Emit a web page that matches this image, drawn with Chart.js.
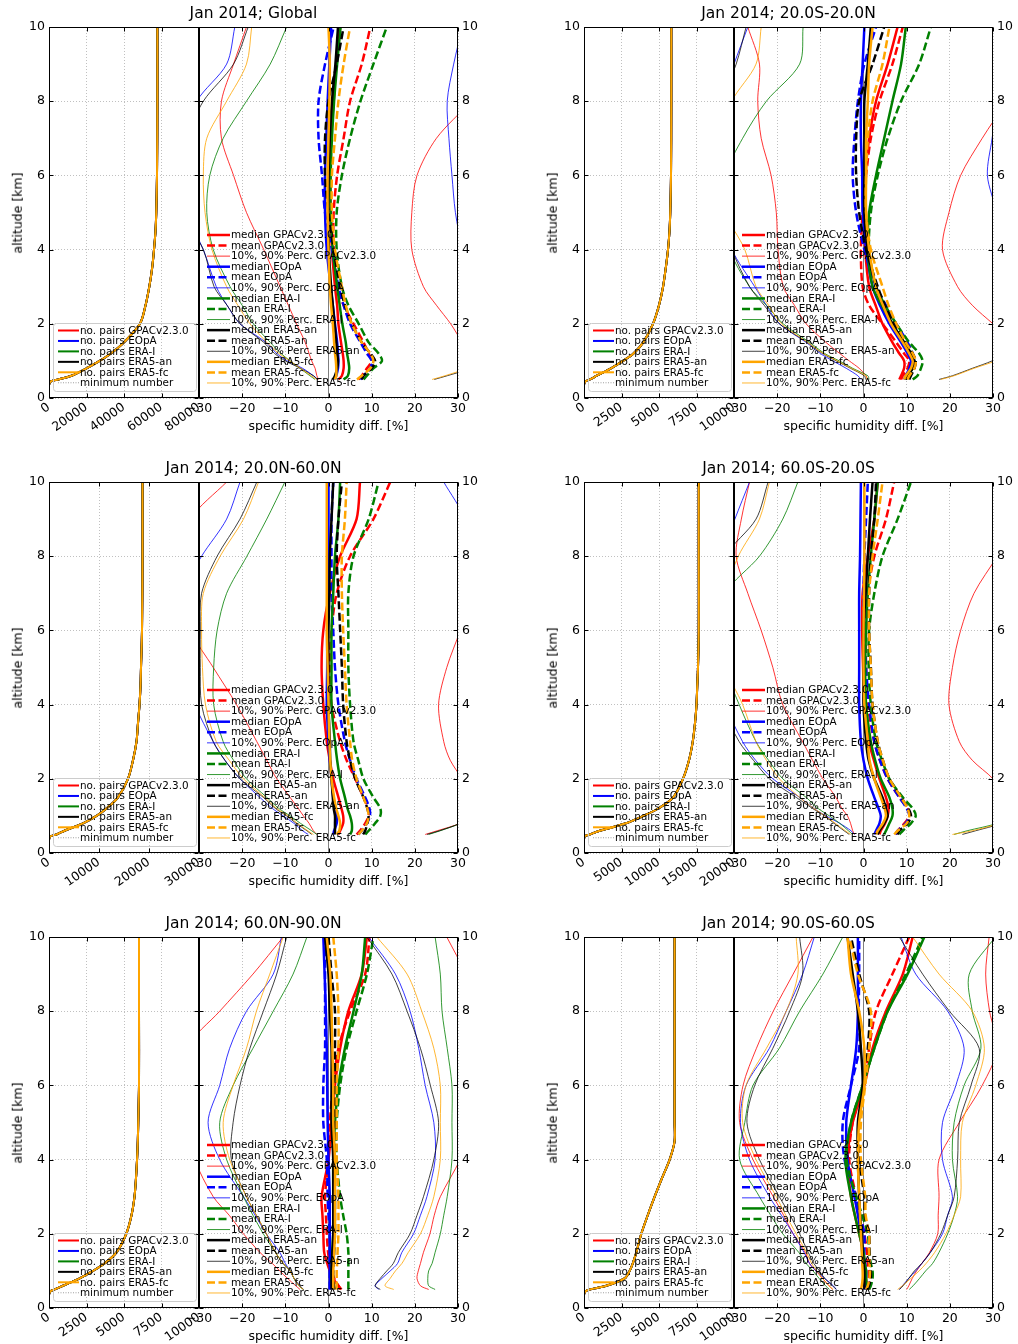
<!DOCTYPE html>
<html>
<head>
<meta charset="utf-8">
<script src="https://cdn.jsdelivr.net/npm/chart.js@4.4.1/dist/chart.umd.min.js"></script>
<style>
  html, body { margin: 0; padding: 0; background: #fff; overflow: hidden; }
  body { width: 1018px; height: 1344px; position: relative; font-family: "DejaVu Sans", sans-serif; color: #000; }
  canvas { position: absolute; }
  .lbl { position: absolute; white-space: nowrap; transform: translate(-50%, -50%); line-height: 1; }
  .title { font-size: 15.5px; }
  .axlab { font-size: 12.5px; }
  .ylab { transform: translate(-50%, -50%) rotate(-90deg); }
</style>
</head>
<body>
<script>
// ---- shared axes / series definitions ----
const ALT = [0.5, 0.6, 0.8, 1, 1.2, 1.5, 2, 2.5, 3, 4, 5, 6, 7, 8, 9, 10];          // km, difference profiles
const PAIR_ALT = [0, 0.35, 0.45, 0.5, 0.6, 0.8, 1, 1.2, 1.5, 2, 2.5, 3, 3.5, 4, 4.5, 5, 6, 8, 10]; // km, pair counts
const SOURCES = ['GPACv2.3.0', 'EOpA', 'ERA-I', 'ERA5-an', 'ERA5-fc'];
const COLORS = ['#ff0000', '#0000ff', '#008000', '#000000', '#ffa500'];
const PERC_COLORS = ['rgba(255,0,0,0.8)', 'rgba(0,0,255,0.8)', 'rgba(0,128,0,0.8)', 'rgba(0,0,0,0.75)', 'rgba(255,165,0,0.8)'];
const ALT_TICKS = [0, 2, 4, 6, 8, 10];
const DIFF_TICKS = [-30, -20, -10, 0, 10, 20, 30];
const ZERO_REF = 0;
const MIN_PAIRS = 0;

// ---- Global ----
const GLB_MEDIAN = [
  [2.3, 3.1, 3.5, 3.5, 3.3, 2.9, 2.3, 2.0, 1.5, 0.8, 0.5, 0.4, 0.6, 1.2, 1.8, 2.7],
  [1.5, 1.8, 2.2, 2.3, 2.2, 2.0, 1.5, 1.0, 0.5, -0.4, -0.8, -0.8, -0.5, -0.2, 0.2, 0.6],
  [3.5, 4.5, 4.8, 4.6, 4.3, 4.0, 3.2, 2.6, 2.0, 1.0, 0.5, 0.5, 0.8, 1.3, 2.0, 2.8],
  [1.0, 1.5, 2.0, 2.2, 2.0, 1.8, 1.4, 1.0, 0.6, 0.1, -0.1, 0.0, 0.3, 0.8, 1.6, 2.2],
  [1.5, 1.8, 1.8, 1.7, 1.5, 1.3, 1.0, 0.6, 0.3, 0.0, -0.2, -0.2, 0.0, 0.2, 0.3, 0.0]
];
const GLB_MEAN = [
  [7.0, 7.7, 8.9, 10.0, 9.3, 8.1, 5.8, 3.5, 2.0, 1.2, 1.2, 2.0, 3.5, 5.0, 7.7, 9.7],
  [7.4, 8.1, 9.7, 10.0, 8.9, 7.4, 5.0, 3.5, 2.3, 0.8, -0.8, -1.5, -2.3, -2.3, -0.8, 1.2],
  [8.1, 8.9, 10.4, 12.4, 11.6, 9.3, 7.0, 4.6, 3.1, 1.9, 1.9, 3.1, 5.0, 7.4, 10.4, 13.5],
  [7.7, 8.1, 10.0, 10.8, 9.7, 7.7, 5.4, 3.8, 2.7, 1.2, 0.0, -0.8, -0.8, 0.0, 1.9, 3.5],
  [6.6, 7.7, 9.7, 10.4, 9.7, 7.7, 5.4, 4.0, 3.1, 1.5, 0.8, 0.8, 1.5, 2.3, 3.5, 5.0]
];
const GLB_P10 = [
  [-2.3, -2.7, -3.1, -3.9, -4.5, -5.4, -7.4, -9.3, -11.2, -15.0, -19.0, -22.0, -24.8, -24.8, -22.0, -19.0],
  [-2.5, -3.5, -6.0, -9.5, -12.0, -14.5, -20.5, -23.5, -26.0, -29.0, -33.0, -35.0, -33.0, -30.5, -23.6, -21.7],
  [-3.1, -4.3, -6.6, -8.9, -11.0, -13.5, -17.4, -20.0, -22.8, -26.7, -28.2, -27.5, -24.4, -19.0, -13.5, -9.7],
  [-2.5, -3.5, -6.5, -10.0, -12.5, -15.0, -20.5, -23.5, -26.5, -29.0, -34.0, -36.0, -33.0, -29.0, -22.0, -18.6],
  [-2.7, -4.0, -6.5, -8.9, -11.5, -14.3, -18.2, -21.0, -23.6, -27.0, -28.6, -29.0, -28.2, -23.6, -19.0, -17.8]
];
const GLB_P90 = [
  [40, 38, 36, 34, 33, 31, 28.3, 25, 22, 19.3, 19.3, 20.5, 25, 33, 40, 45],
  [45, 43, 41, 40, 39, 38, 36, 34, 33, 31, 29.4, 28.6, 27.9, 27.5, 29, 31],
  [34, 36, 38, 40, 40, 40, 38, 36, 35, 33, 33, 34, 35, 36, 38, 40],
  [24.5, 27.5, 33, 36, 38, 40, 40, 40, 39, 37, 36, 36, 37, 38, 40, 42],
  [24, 27, 32, 35, 37, 39, 40, 40, 39, 37, 36, 36, 37, 38, 40, 42]
];
const GLB_PAIRS = [0, 0, 1000, 5000, 12000, 20000, 27000, 33000, 40000, 48500, 51500, 53500, 55000, 56000, 56800, 57200, 57600, 57800, 57800];

// ---- 20.0S-20.0N ----
const TRP_MEDIAN = [
  [8.3, 8.7, 9.4, 9.4, 8.3, 6.7, 4.4, 2.8, 1.3, 0.4, 0.2, 0.4, 1.3, 2.9, 5.6, 7.9],
  [9.4, 9.8, 10.6, 11.0, 10.2, 8.7, 6.0, 3.8, 2.1, 0.6, -0.2, -0.3, -0.6, -0.6, -0.2, 0.2],
  [9.8, 10.2, 11.4, 11.8, 11.0, 9.4, 6.7, 4.2, 2.1, 1.0, 1.3, 2.9, 4.8, 6.7, 8.7, 9.8],
  [9.8, 10.2, 11.4, 11.8, 11.0, 9.4, 6.7, 4.5, 2.9, 1.0, 0.2, 0.2, 0.2, 0.2, 1.0, 1.7],
  [9.4, 9.8, 11.0, 11.4, 10.6, 9.1, 6.4, 4.5, 2.9, 1.3, 0.6, 0.6, 0.6, 1.0, 1.3, 2.1]
];
const TRP_MEAN = [
  [8.7, 9.1, 10.2, 10.6, 9.4, 7.6, 4.4, 1.3, -0.2, -0.6, -0.2, 0.6, 1.7, 3.7, 6.7, 9.1],
  [9.8, 10.2, 11.4, 11.8, 11.4, 10.2, 7.6, 5.2, 2.9, 0.2, -1.7, -2.5, -2.1, -1.3, 0.2, 2.9],
  [11.4, 12.5, 13.3, 13.7, 12.9, 10.6, 7.6, 5.0, 2.9, 1.3, 1.7, 3.3, 5.6, 8.7, 12.9, 15.6],
  [10.6, 11.0, 11.8, 12.1, 11.4, 9.8, 7.1, 5.0, 3.3, 0.6, -1.0, -1.7, -1.7, -1.0, 2.1, 4.8],
  [10.2, 10.6, 11.8, 12.1, 11.4, 9.8, 7.6, 5.8, 4.4, 1.7, 0.6, 0.6, 1.0, 2.1, 4.4, 6.0]
];
const TRP_P10 = [
  [1.0, 0.6, -1.0, -3.3, -5.5, -8.7, -13.3, -16.0, -18.6, -19.8, -20.2, -21.4, -23.7, -24.5, -24.1, -26.8],
  [-0.6, -1.3, -4.0, -7.1, -10.0, -13.3, -19.5, -22.5, -25.2, -30.5, -33, -34, -34, -33, -30, -26.8],
  [1.3, 1.0, -2.5, -5.6, -9.0, -12.5, -18.6, -22.5, -26.4, -31, -32, -32, -28, -22.5, -14.8, -14.0],
  [0.5, 0.2, -3.0, -6.3, -9.5, -13.0, -19.5, -23.0, -26.4, -30.5, -33, -34, -34, -33, -29.5, -27.2],
  [0.8, 0.5, -2.8, -6.0, -9.3, -13.0, -19.0, -22.0, -24.9, -27.5, -32, -33, -33, -30.5, -24.9, -23.7]
];
const TRP_P90 = [
  [40, 40, 39, 38, 37, 35, 30, 25.2, 21.8, 18.3, 19.8, 22.5, 27.5, 33, 37, 40],
  [40, 40, 39, 38, 37, 36, 35, 34, 33, 31.5, 30.8, 28.7, 29.8, 31, 33, 35],
  [35, 36, 38, 40, 40, 40, 40, 40, 40, 40, 40, 40, 40, 40, 40, 40],
  [17.5, 20.6, 25.2, 29.8, 33, 36, 38, 39, 39, 39, 39, 39, 40, 40, 40, 40],
  [17.9, 21.0, 25.6, 30.5, 33, 36, 38, 39, 39, 39, 39, 39, 40, 40, 40, 40]
];
const TRP_PAIRS = [0, 0, 100, 400, 850, 1800, 2600, 3300, 3950, 4600, 5000, 5270, 5450, 5600, 5700, 5750, 5800, 5820, 5820];

// ---- 20.0N-60.0N ----
const NML_MEDIAN = [
  [2.3, 2.7, 3.4, 3.4, 3.0, 2.3, 1.1, 0.3, -0.4, -1.2, -1.6, -1.2, 0.3, 2.7, 6.5, 7.3],
  [1.1, 1.3, 1.9, 1.9, 1.5, 1.1, 0.7, 0.3, 0.0, -0.4, -0.3, -0.3, -0.1, 0.0, 0.0, 0.0],
  [5.0, 5.4, 5.4, 5.0, 4.4, 3.8, 2.7, 2.0, 1.5, 0.7, 0.7, 0.7, 1.1, 1.5, 2.3, 2.7],
  [1.5, 1.5, 1.5, 1.5, 1.2, 1.0, 0.7, 0.4, 0.3, 0.0, 0.0, 0.0, 0.2, 0.3, 0.7, 1.1],
  [1.9, 2.5, 2.7, 2.3, 1.8, 1.3, 0.7, 0.4, 0.2, 0.0, -0.2, -0.4, -0.4, -0.4, -0.4, -0.4]
];
const NML_MEAN = [
  [6.5, 7.3, 8.5, 9.3, 9.3, 8.1, 6.2, 4.2, 2.7, 0.7, 0.3, 0.7, 1.9, 5.0, 10.4, 14.3],
  [6.9, 7.7, 8.9, 9.6, 9.5, 8.5, 6.5, 5.0, 3.8, 2.3, 1.5, 1.1, 0.7, 0.7, 0.7, 1.1],
  [8.5, 9.3, 10.8, 12.0, 12.0, 10.4, 8.1, 6.9, 5.8, 5.0, 4.6, 4.6, 4.6, 5.8, 9.3, 11.6],
  [8.0, 8.5, 9.0, 9.3, 9.0, 8.1, 6.2, 5.0, 4.2, 3.4, 3.1, 2.7, 2.3, 1.9, 2.3, 3.1],
  [6.9, 7.7, 8.9, 9.3, 9.0, 8.1, 6.5, 5.5, 5.0, 4.2, 3.8, 3.4, 3.1, 3.1, 3.8, 4.2]
];
const NML_P10 = [
  [-2.7, -3.5, -4.5, -5.8, -7.0, -8.9, -12.0, -14.3, -16.6, -21.3, -26.7, -32, -34, -34, -32, -23.6],
  [-4.7, -6.0, -8.0, -10.5, -13.0, -15.9, -20.5, -24.0, -26.7, -31, -34, -35, -34, -29.4, -23.6, -20.5],
  [-2.7, -3.9, -6.5, -8.9, -11.5, -14.3, -19.0, -22.0, -24.4, -26.6, -26.6, -25.8, -23.6, -18.9, -14.3, -10.1],
  [-3.9, -5.0, -7.5, -9.7, -12.3, -15.1, -20.5, -24.0, -26.7, -29.4, -29.7, -29.7, -29.4, -25.8, -20.5, -16.6],
  [-3.5, -4.8, -7.2, -9.3, -12.0, -14.8, -19.7, -23.0, -26.0, -28.5, -29.2, -29.4, -29.0, -25.1, -19.7, -16.2]
];
const NML_P90 = [
  [22.4, 25.2, 30.5, 33, 35, 34, 31, 28.2, 26.7, 25.5, 27.4, 30.5, 33, 35, 36, 38],
  [36, 37, 38, 38, 38, 38, 38, 38, 37, 36, 35, 34, 33, 32, 31.5, 26.7],
  [23.2, 25.9, 30.5, 33, 35, 36, 37, 38, 38, 38, 38, 38, 38, 38, 38, 38],
  [22.8, 25.7, 30.5, 33, 35, 36, 37, 38, 38, 38, 38, 38, 38, 38, 38, 38],
  [34, 35, 36, 37, 38, 38, 38, 38, 38, 38, 38, 38, 38, 38, 38, 38]
];
const NML_PAIRS = [0, 0, 300, 1500, 3100, 6800, 9500, 11500, 13800, 15800, 16800, 17500, 17800, 18100, 18300, 18400, 18600, 18700, 18700];

// ---- 60.0S-20.0S ----
const SML_MEDIAN = [
  [3.7, 4.0, 5.0, 5.6, 5.8, 5.2, 3.7, 2.4, 1.3, 0.2, -0.1, -0.3, -0.2, 1.0, 2.5, 3.3],
  [2.5, 2.9, 3.7, 4.0, 3.5, 2.5, 1.0, 0.0, -0.6, -1.0, -1.0, -1.0, -1.0, -0.8, -0.7, -0.6],
  [4.8, 5.2, 6.0, 6.7, 6.7, 6.0, 4.0, 2.7, 1.7, 0.6, 0.4, 0.6, 1.0, 1.7, 2.5, 3.3],
  [3.3, 3.7, 4.8, 5.6, 5.2, 4.4, 2.5, 1.2, 0.6, 0.0, 0.0, 0.0, 0.5, 1.0, 1.5, 2.1],
  [2.9, 3.3, 4.5, 5.2, 4.9, 4.0, 2.5, 1.4, 1.0, 0.2, 0.0, 0.0, 0.1, 0.2, 0.2, 0.2]
];
const SML_MEAN = [
  [7.5, 7.9, 9.5, 10.6, 10.2, 8.3, 5.6, 3.8, 2.5, 1.0, 0.6, 0.6, 1.0, 2.5, 5.2, 7.1],
  [7.5, 7.9, 9.8, 10.6, 10.0, 8.3, 5.6, 3.8, 2.5, 1.3, 0.6, 0.2, 0.0, 0.2, 0.6, 1.0],
  [8.3, 9.1, 11.0, 12.1, 11.4, 9.1, 6.0, 4.3, 2.9, 1.7, 1.2, 1.3, 2.5, 4.4, 7.9, 11.0],
  [7.9, 8.3, 10.2, 11.0, 10.4, 8.7, 6.0, 4.5, 3.3, 2.1, 1.7, 1.3, 1.3, 1.7, 2.5, 2.9],
  [7.1, 7.9, 10.0, 10.6, 10.2, 8.7, 6.0, 4.5, 3.3, 2.1, 1.7, 1.3, 1.3, 2.1, 3.3, 4.4]
];
const SML_P10 = [
  [-2.1, -2.5, -3.0, -3.7, -5.0, -6.4, -9.4, -11.8, -14.1, -18.7, -21.0, -23.7, -26.8, -29.5, -28.3, -26.4],
  [-2.1, -2.9, -5.5, -8.7, -11.5, -14.8, -21.0, -25.0, -28.0, -32, -34, -35, -34, -33, -29.8, -26.4],
  [-2.5, -3.5, -5.5, -7.9, -10.5, -13.3, -18.7, -22.0, -24.9, -28.8, -32, -33, -32, -24.1, -18.7, -15.2],
  [-3.3, -4.5, -6.8, -9.0, -11.8, -15.6, -21.8, -25.5, -28.8, -33, -35, -35, -34, -32, -24.9, -22.1],
  [-3.0, -4.2, -6.5, -8.9, -11.5, -14.8, -19.5, -22.5, -24.9, -28.0, -32, -33, -32, -29.0, -24.1, -21.8]
];
const SML_P90 = [
  [40, 40, 38, 36, 35, 33, 30, 25.2, 22.2, 19.8, 20.6, 22.5, 25.6, 31, 36, 40],
  [38, 38, 38, 38, 38, 38, 38, 38, 38, 38, 38, 38, 38, 38, 38, 38],
  [21, 24, 31, 34, 36, 38, 38, 38, 38, 38, 38, 38, 38, 38, 38, 38],
  [22.9, 26.0, 32, 35, 37, 38, 38, 38, 38, 38, 38, 38, 38, 38, 38, 38],
  [20.6, 25.2, 31.5, 35, 37, 38, 38, 38, 38, 38, 38, 38, 38, 38, 38, 38]
];
const SML_PAIRS = [0, 0, 100, 750, 2100, 5600, 7900, 9900, 11900, 13200, 14000, 14500, 14800, 15000, 15100, 15200, 15300, 15300, 15300];

// ---- 60.0N-90.0N ----
const NPL_MEDIAN = [
  [2.7, 2.3, 1.0, 0.3, -0.3, -1.0, -1.2, -1.4, -1.6, 0.0, 0.7, 1.5, 2.7, 4.6, 7.7, 8.9],
  [0.3, 0.3, 0.3, 0.3, 0.3, 0.3, 0.3, 0.3, 0.3, 0.0, -0.2, -0.3, -0.4, -0.6, -0.9, -1.2],
  [1.1, 0.9, 0.7, 0.7, 0.8, 0.9, 1.1, 1.1, 1.1, 1.1, 1.5, 2.3, 3.8, 5.8, 7.7, 8.5],
  [0.7, 0.7, 0.7, 0.7, 0.8, 0.9, 1.1, 1.1, 1.1, 1.1, 0.7, 0.7, 0.7, 0.3, 0.0, -0.8],
  [1.1, 1.1, 1.1, 1.1, 1.2, 1.3, 1.5, 1.5, 1.5, 1.5, 1.1, 1.1, 0.9, 0.7, 0.4, -0.4]
];
const NPL_MEAN = [
  [3.0, 2.3, 1.3, 0.7, 0.3, -0.1, -0.4, -0.6, -0.8, 0.0, 0.3, 1.1, 2.3, 5.0, 8.5, 9.5],
  [0.3, 0.3, 0.3, 0.3, 0.3, 0.3, 0.3, 0.0, -0.2, -0.4, -1.2, -1.2, -0.8, -0.8, -0.8, -0.8],
  [4.6, 4.6, 4.6, 4.6, 4.6, 4.6, 4.2, 3.4, 2.7, 1.9, 1.9, 2.7, 4.2, 6.5, 8.9, 10.4],
  [1.5, 1.3, 1.1, 1.1, 1.2, 1.3, 1.5, 1.5, 1.5, 1.5, 1.5, 1.5, 1.5, 1.5, 0.7, 0.0],
  [1.9, 1.9, 1.9, 1.9, 2.0, 2.1, 2.3, 2.3, 2.3, 1.9, 1.9, 1.9, 2.3, 2.3, 1.9, 1.1]
];
const NPL_P10 = [
  [-6.6, -7.6, -9.5, -11.3, -13.0, -15.9, -19.7, -23.0, -26.7, -31, -33, -34, -33, -25.2, -17.5, -10.5],
  [-5.8, -6.6, -8.0, -8.9, -10.0, -11.3, -14.4, -17.0, -19.7, -25.2, -27.9, -25.2, -22.9, -19.0, -12.8, -10.9],
  [-5.8, -6.8, -8.0, -8.9, -10.5, -12.3, -15.1, -17.5, -19.7, -23.6, -25.2, -22.1, -17.5, -12.8, -8.2, -5.0],
  [-5.8, -6.8, -8.0, -8.9, -10.5, -12.3, -14.4, -16.7, -19.0, -22.5, -22.1, -20.5, -18.2, -15.1, -12.0, -9.7],
  [-5.8, -6.8, -8.0, -8.9, -10.5, -12.3, -14.4, -16.7, -19.0, -22.9, -24.4, -22.1, -19.0, -16.7, -13.6, -10.5]
];
const NPL_P90 = [
  [23.2, 21.3, 20.5, 20.8, 21.3, 22.0, 23.5, 24.5, 25.9, 30.5, 34, 36, 37, 37, 32, 27.4],
  [11.6, 10.8, 12.4, 14.3, 16.0, 17.0, 19.7, 21.3, 22.8, 24.7, 24.4, 22.4, 20.9, 18.9, 15.5, 9.3],
  [24.7, 23.2, 23.0, 23.2, 24.0, 24.7, 25.9, 26.7, 27.5, 28.6, 28.6, 28.6, 27.5, 26.3, 25.9, 24.7],
  [12.0, 10.8, 12.0, 13.5, 15.0, 16.2, 18.9, 20.5, 22.0, 24.4, 25.5, 23.6, 21.3, 18.2, 14.7, 8.9],
  [15.1, 13.1, 14.3, 15.5, 17.0, 18.5, 21.3, 23.0, 24.4, 25.9, 25.9, 25.9, 24.4, 21.6, 18.2, 11.2]
];
const NPL_PAIRS = [0, 0, 100, 380, 930, 2040, 2930, 3700, 4500, 5150, 5500, 5700, 5800, 5870, 5920, 5950, 6000, 6000, 6000];

// ---- 90.0S-60.0S ----
const SPL_MEDIAN = [
  [0.8, 0.7, 0.6, 0.6, 0.3, 0.0, -1.0, -2.0, -2.9, -3.7, -2.5, 0.2, 2.1, 5.2, 9.1, 11.4],
  [0.2, 0.2, 0.2, 0.2, 0.0, -0.3, -0.6, -1.3, -2.1, -3.7, -4.0, -2.9, -1.7, -1.3, -1.3, -1.3],
  [1.0, 0.8, 0.6, 0.6, 0.3, 0.0, -1.0, -2.0, -2.9, -4.2, -2.9, -0.2, 2.5, 5.6, 10.2, 14.1],
  [0.2, 0.2, 0.2, 0.2, 0.0, -0.2, -0.4, -0.8, -1.0, -1.3, -1.3, -0.2, -0.6, -1.3, -2.5, -3.7],
  [-0.6, -0.4, -0.2, -0.2, -0.3, -0.4, -0.6, -0.8, -1.0, -1.3, -1.0, 0.2, 0.2, -1.0, -2.9, -3.7]
];
const SPL_MEAN = [
  [1.3, 1.3, 1.3, 1.3, 1.0, 0.8, 0.2, -0.8, -1.7, -3.3, -2.5, 0.0, 1.3, 2.9, 6.7, 10.6],
  [0.6, 0.6, 0.6, 0.6, 0.4, 0.2, 0.2, -0.8, -1.7, -4.4, -4.8, -2.9, -1.0, -1.1, -1.0, -1.0],
  [1.3, 1.7, 2.1, 2.1, 1.7, 1.3, 1.0, -0.3, -1.7, -3.9, -2.9, -0.2, 2.5, 5.6, 9.8, 13.7],
  [1.0, 1.3, 1.7, 1.7, 1.5, 1.4, 1.3, 0.3, 0.2, -1.0, -1.0, 0.2, 1.0, 1.3, -1.0, -2.9],
  [0.6, 1.0, 1.4, 1.5, 1.4, 1.3, 1.3, 0.5, 0.4, -0.6, -0.6, 0.4, 1.3, 1.7, -1.3, -3.3]
];
const SPL_P10 = [
  [-7.1, -8.0, -9.5, -11.0, -12.5, -13.5, -16.3, -18.5, -20.9, -25.6, -28.7, -27.9, -24.8, -20.9, -16.3, -11.7],
  [-6.3, -7.0, -9.0, -11.0, -12.5, -13.8, -16.3, -19.0, -21.8, -26.4, -28.5, -27.2, -21.8, -17.9, -14.1, -11.4],
  [-7.9, -8.8, -10.3, -11.7, -13.3, -15.0, -18.7, -21.5, -24.1, -28.7, -27.5, -25.6, -19.5, -14.8, -9.4, -4.8],
  [-6.3, -7.2, -9.0, -10.2, -11.5, -12.8, -14.8, -17.0, -19.5, -24.1, -27.0, -25.2, -21.0, -17.1, -14.1, -14.8],
  [-7.1, -8.0, -9.5, -10.8, -12.0, -13.2, -15.6, -18.0, -20.2, -24.9, -28.0, -27.2, -22.5, -17.9, -15.2, -15.6]
];
const SPL_P90 = [
  [10.0, 10.5, 11.3, 12.3, 13.5, 15.3, 17.2, 17.3, 17.5, 17.5, 22.2, 27.5, 31, 29.2, 28.3, 29.1],
  [8.3, 9.0, 10.5, 12.1, 13.5, 15.5, 18.3, 19.5, 20.6, 18.3, 18.3, 21.4, 23.3, 19.5, 12.1, 8.7],
  [10.6, 11.5, 13.0, 14.4, 16.0, 17.5, 19.5, 21.0, 21.8, 20.6, 21.0, 23.3, 27.2, 25.2, 24.5, 30.5],
  [8.3, 9.2, 10.5, 11.8, 13.5, 15.5, 17.9, 19.5, 21.0, 21.8, 22.2, 24.9, 26.8, 19.9, 13.7, 8.3],
  [7.9, 9.0, 11.0, 12.9, 14.5, 16.5, 19.1, 21.0, 22.5, 22.5, 22.9, 26.0, 28.0, 25.2, 17.5, 11.4]
];
const SPL_PAIRS = [0, 0, 100, 380, 1490, 2710, 3040, 3250, 3490, 3820, 4250, 4710, 5200, 5710, 6040, 6040, 6040, 6040, 6040];

// ---- panel table (placement on the page + which arrays feed it) ----
const PANELS = [
  { title: 'Jan 2014; Global',       median: GLB_MEDIAN, mean: GLB_MEAN, p10: GLB_P10, p90: GLB_P90, pairs: GLB_PAIRS, pairsMax: 80000, pairsStep: 20000, left: 0,   top: 0 },
  { title: 'Jan 2014; 20.0S-20.0N',  median: TRP_MEDIAN, mean: TRP_MEAN, p10: TRP_P10, p90: TRP_P90, pairs: TRP_PAIRS, pairsMax: 10000, pairsStep: 2500,  left: 535, top: 0 },
  { title: 'Jan 2014; 20.0N-60.0N',  median: NML_MEDIAN, mean: NML_MEAN, p10: NML_P10, p90: NML_P90, pairs: NML_PAIRS, pairsMax: 30000, pairsStep: 10000, left: 0,   top: 455 },
  { title: 'Jan 2014; 60.0S-20.0S',  median: SML_MEDIAN, mean: SML_MEAN, p10: SML_P10, p90: SML_P90, pairs: SML_PAIRS, pairsMax: 20000, pairsStep: 5000,  left: 535, top: 455 },
  { title: 'Jan 2014; 60.0N-90.0N',  median: NPL_MEDIAN, mean: NPL_MEAN, p10: NPL_P10, p90: NPL_P90, pairs: NPL_PAIRS, pairsMax: 10000, pairsStep: 2500,  left: 0,   top: 910 },
  { title: 'Jan 2014; 90.0S-60.0S',  median: SPL_MEDIAN, mean: SPL_MEAN, p10: SPL_P10, p90: SPL_P90, pairs: SPL_PAIRS, pairsMax: 10000, pairsStep: 2500,  left: 535, top: 910 }
];

// ---- drawing ----
const FONT = "'DejaVu Sans', sans-serif";
Chart.defaults.font.family = FONT;
Chart.defaults.font.size = 12.5;
Chart.defaults.color = '#000';

const toPoints = (vals, alts) => vals.map((v, i) => ({ x: v, y: alts[i] }));
const minus = v => (v < 0 ? '\u2212' + Math.abs(v) : String(v));

// axes box with inward tick marks on all four sides
const framePlugin = {
  id: 'axesFrame',
  afterDatasetsDraw(chart) {
    const { ctx, chartArea: a, scales } = chart;
    const L = Math.round(a.left) + 0.5, R = Math.round(a.right) - 0.5;
    const T = Math.round(a.top) + 0.5, B = Math.round(a.bottom) - 0.5;
    ctx.save();
    ctx.strokeStyle = '#000';
    ctx.lineWidth = 1;
    ctx.setLineDash([]);
    ctx.strokeRect(L, T, R - L, B - T);
    ctx.beginPath();
    scales.x.ticks.forEach(t => {
      const px = Math.round(scales.x.getPixelForValue(t.value)) + 0.5;
      ctx.moveTo(px, B); ctx.lineTo(px, B - 4);
      ctx.moveTo(px, T); ctx.lineTo(px, T + 4);
    });
    scales.y.ticks.forEach(t => {
      const py = Math.round(scales.y.getPixelForValue(t.value)) + 0.5;
      ctx.moveTo(L, py); ctx.lineTo(L + 4, py);
      ctx.moveTo(R, py); ctx.lineTo(R - 4, py);
    });
    ctx.stroke();
    ctx.restore();
  }
};

// in-axes legend built from the datasets' own styles
const legendPlugin = {
  id: 'panelLegend',
  afterDraw(chart, args, opts) {
    const { ctx } = chart;
    const items = chart.data.datasets.filter(d => d.inLegend);
    ctx.save();
    if (opts.box) {
      const [bx, by, bw, bh] = opts.box;
      ctx.strokeStyle = '#cccccc';
      ctx.lineWidth = 1;
      ctx.beginPath();
      ctx.roundRect(bx + 0.5, by + 0.5, bw, bh, 3);
      ctx.stroke();
    }
    ctx.font = '10.4px ' + FONT;
    ctx.textBaseline = 'middle';
    ctx.textAlign = 'left';
    items.forEach((d, i) => {
      const y = opts.y0 + i * opts.dy;
      ctx.beginPath();
      ctx.setLineDash(d.borderDash || []);
      ctx.lineWidth = d.borderWidth;
      ctx.strokeStyle = d.borderColor;
      ctx.moveTo(opts.x0, y);
      ctx.lineTo(opts.x1, y);
      ctx.stroke();
      ctx.setLineDash([]);
      ctx.fillStyle = '#000';
      ctx.fillText(d.label, opts.x1 + 1, y + 0.5);
    });
    ctx.restore();
  }
};

const gridOpts = { color: '#b0b0b0', lineWidth: 0.8, drawTicks: false };
const borderOpts = { display: false, dash: [1, 2] };

function addText(cls, text, x, y) {
  const d = document.createElement('div');
  d.className = 'lbl ' + cls;
  d.textContent = text;
  d.style.left = x + 'px';
  d.style.top = y + 'px';
  document.body.appendChild(d);
}

function makeCanvas(x, y, w, h) {
  const c = document.createElement('canvas');
  c.width = w; c.height = h;
  c.style.left = x + 'px'; c.style.top = y + 'px';
  c.style.width = w + 'px'; c.style.height = h + 'px';
  document.body.appendChild(c);
  return c;
}

const baseOptions = () => ({
  responsive: false,
  animation: false,
  devicePixelRatio: 1,
  indexAxis: 'y',
  events: [],
  layout: { autoPadding: false },
  elements: {
    point: { radius: 0, hitRadius: 0, hoverRadius: 0 },
    line: { tension: 0.3, capBezierPoints: false, borderJoinStyle: 'round', fill: false }
  }
});

PANELS.forEach(p => {
  // --- number of pairs subplot ---
  const pairSets = SOURCES.map((s, k) => ({
    label: 'no. pairs ' + s,
    data: toPoints(p.pairs, PAIR_ALT),
    borderColor: COLORS[k], borderWidth: 2, inLegend: true, order: -k
  }));
  pairSets.push({
    label: 'minimum number',
    data: [{ x: MIN_PAIRS, y: 0 }, { x: MIN_PAIRS, y: 10 }],
    borderColor: '#888888', borderWidth: 0.8, borderDash: [1, 1.5], tension: 0, inLegend: true, order: 100
  });
  const lc = makeCanvas(p.left, p.top, 210, 450);
  const lo = baseOptions();
  lo.layout.padding = { left: 0, top: 27, right: 11, bottom: 0 };
  lo.scales = {
    x: {
      type: 'linear', position: 'bottom', min: 0, max: p.pairsMax,
      ticks: { stepSize: p.pairsStep, autoSkip: false, minRotation: 35, maxRotation: 35, padding: 2, callback: v => String(v) },
      grid: gridOpts, border: borderOpts,
      afterFit: s => { s.height = 52; }
    },
    y: {
      type: 'linear', position: 'left', min: 0, max: 10,
      ticks: { stepSize: 2, padding: 4, callback: v => String(v) },
      grid: gridOpts, border: borderOpts,
      afterFit: s => { s.width = 49; }
    }
  };
  lo.plugins = {
    legend: { display: false }, tooltip: { enabled: false },
    panelLegend: { box: [53, 323, 143, 68], x0: 58, x1: 79, y0: 330.5, dy: 10.45 }
  };
  new Chart(lc, { type: 'line', data: { datasets: pairSets }, options: lo, plugins: [framePlugin, legendPlugin] });

  // --- humidity difference subplot ---
  const sets = [{
    label: 'zero', data: [{ x: ZERO_REF, y: 0 }, { x: ZERO_REF, y: 10 }],
    borderColor: '#7f7f7f', borderWidth: 1, tension: 0, inLegend: false, order: 1000
  }];
  SOURCES.forEach((s, k) => {
    sets.push({ label: 'median ' + s, data: toPoints(p.median[k], ALT), borderColor: COLORS[k], borderWidth: 2.5, inLegend: true });
    sets.push({ label: 'mean ' + s, data: toPoints(p.mean[k], ALT), borderColor: COLORS[k], borderWidth: 2.5, borderDash: [8, 3.5], inLegend: true });
    sets.push({ label: '10%, 90% Perc. ' + s, data: toPoints(p.p10[k], ALT), borderColor: PERC_COLORS[k], borderWidth: 1, inLegend: true });
    sets.push({ label: '90% ' + s, data: toPoints(p.p90[k], ALT), borderColor: PERC_COLORS[k], borderWidth: 1, inLegend: false });
  });
  sets.forEach((d, i) => { if (d.order === undefined) d.order = -i; });

  const rc = makeCanvas(p.left + 150, p.top, 330, 450);
  const ro = baseOptions();
  ro.layout.padding = { left: 49, top: 27, right: 0, bottom: 0 };
  ro.scales = {
    x: {
      type: 'linear', position: 'bottom', min: DIFF_TICKS[0], max: DIFF_TICKS[DIFF_TICKS.length - 1],
      ticks: { stepSize: 10, autoSkip: false, minRotation: 0, maxRotation: 0, padding: 3, callback: minus },
      grid: gridOpts, border: borderOpts,
      afterFit: s => { s.height = 52; }
    },
    y: {
      type: 'linear', position: 'right', min: ALT_TICKS[0], max: ALT_TICKS[ALT_TICKS.length - 1],
      ticks: { stepSize: 2, padding: 4, callback: v => String(v) },
      grid: gridOpts, border: borderOpts,
      afterFit: s => { s.width = 22; }
    }
  };
  ro.plugins = {
    legend: { display: false }, tooltip: { enabled: false },
    panelLegend: { x0: 57, x1: 80, y0: 235, dy: 10.57 }
  };
  new Chart(rc, { type: 'line', data: { datasets: sets }, options: ro, plugins: [framePlugin, legendPlugin] });

  // --- titles and axis labels ---
  addText('title', p.title, p.left + 253.5, p.top + 14);
  addText('axlab ylab', 'altitude [km]', p.left + 18, p.top + 212.5);
  addText('axlab', 'specific humidity diff. [%]', p.left + 328.5, p.top + 426);
});
</script>
</body>
</html>
